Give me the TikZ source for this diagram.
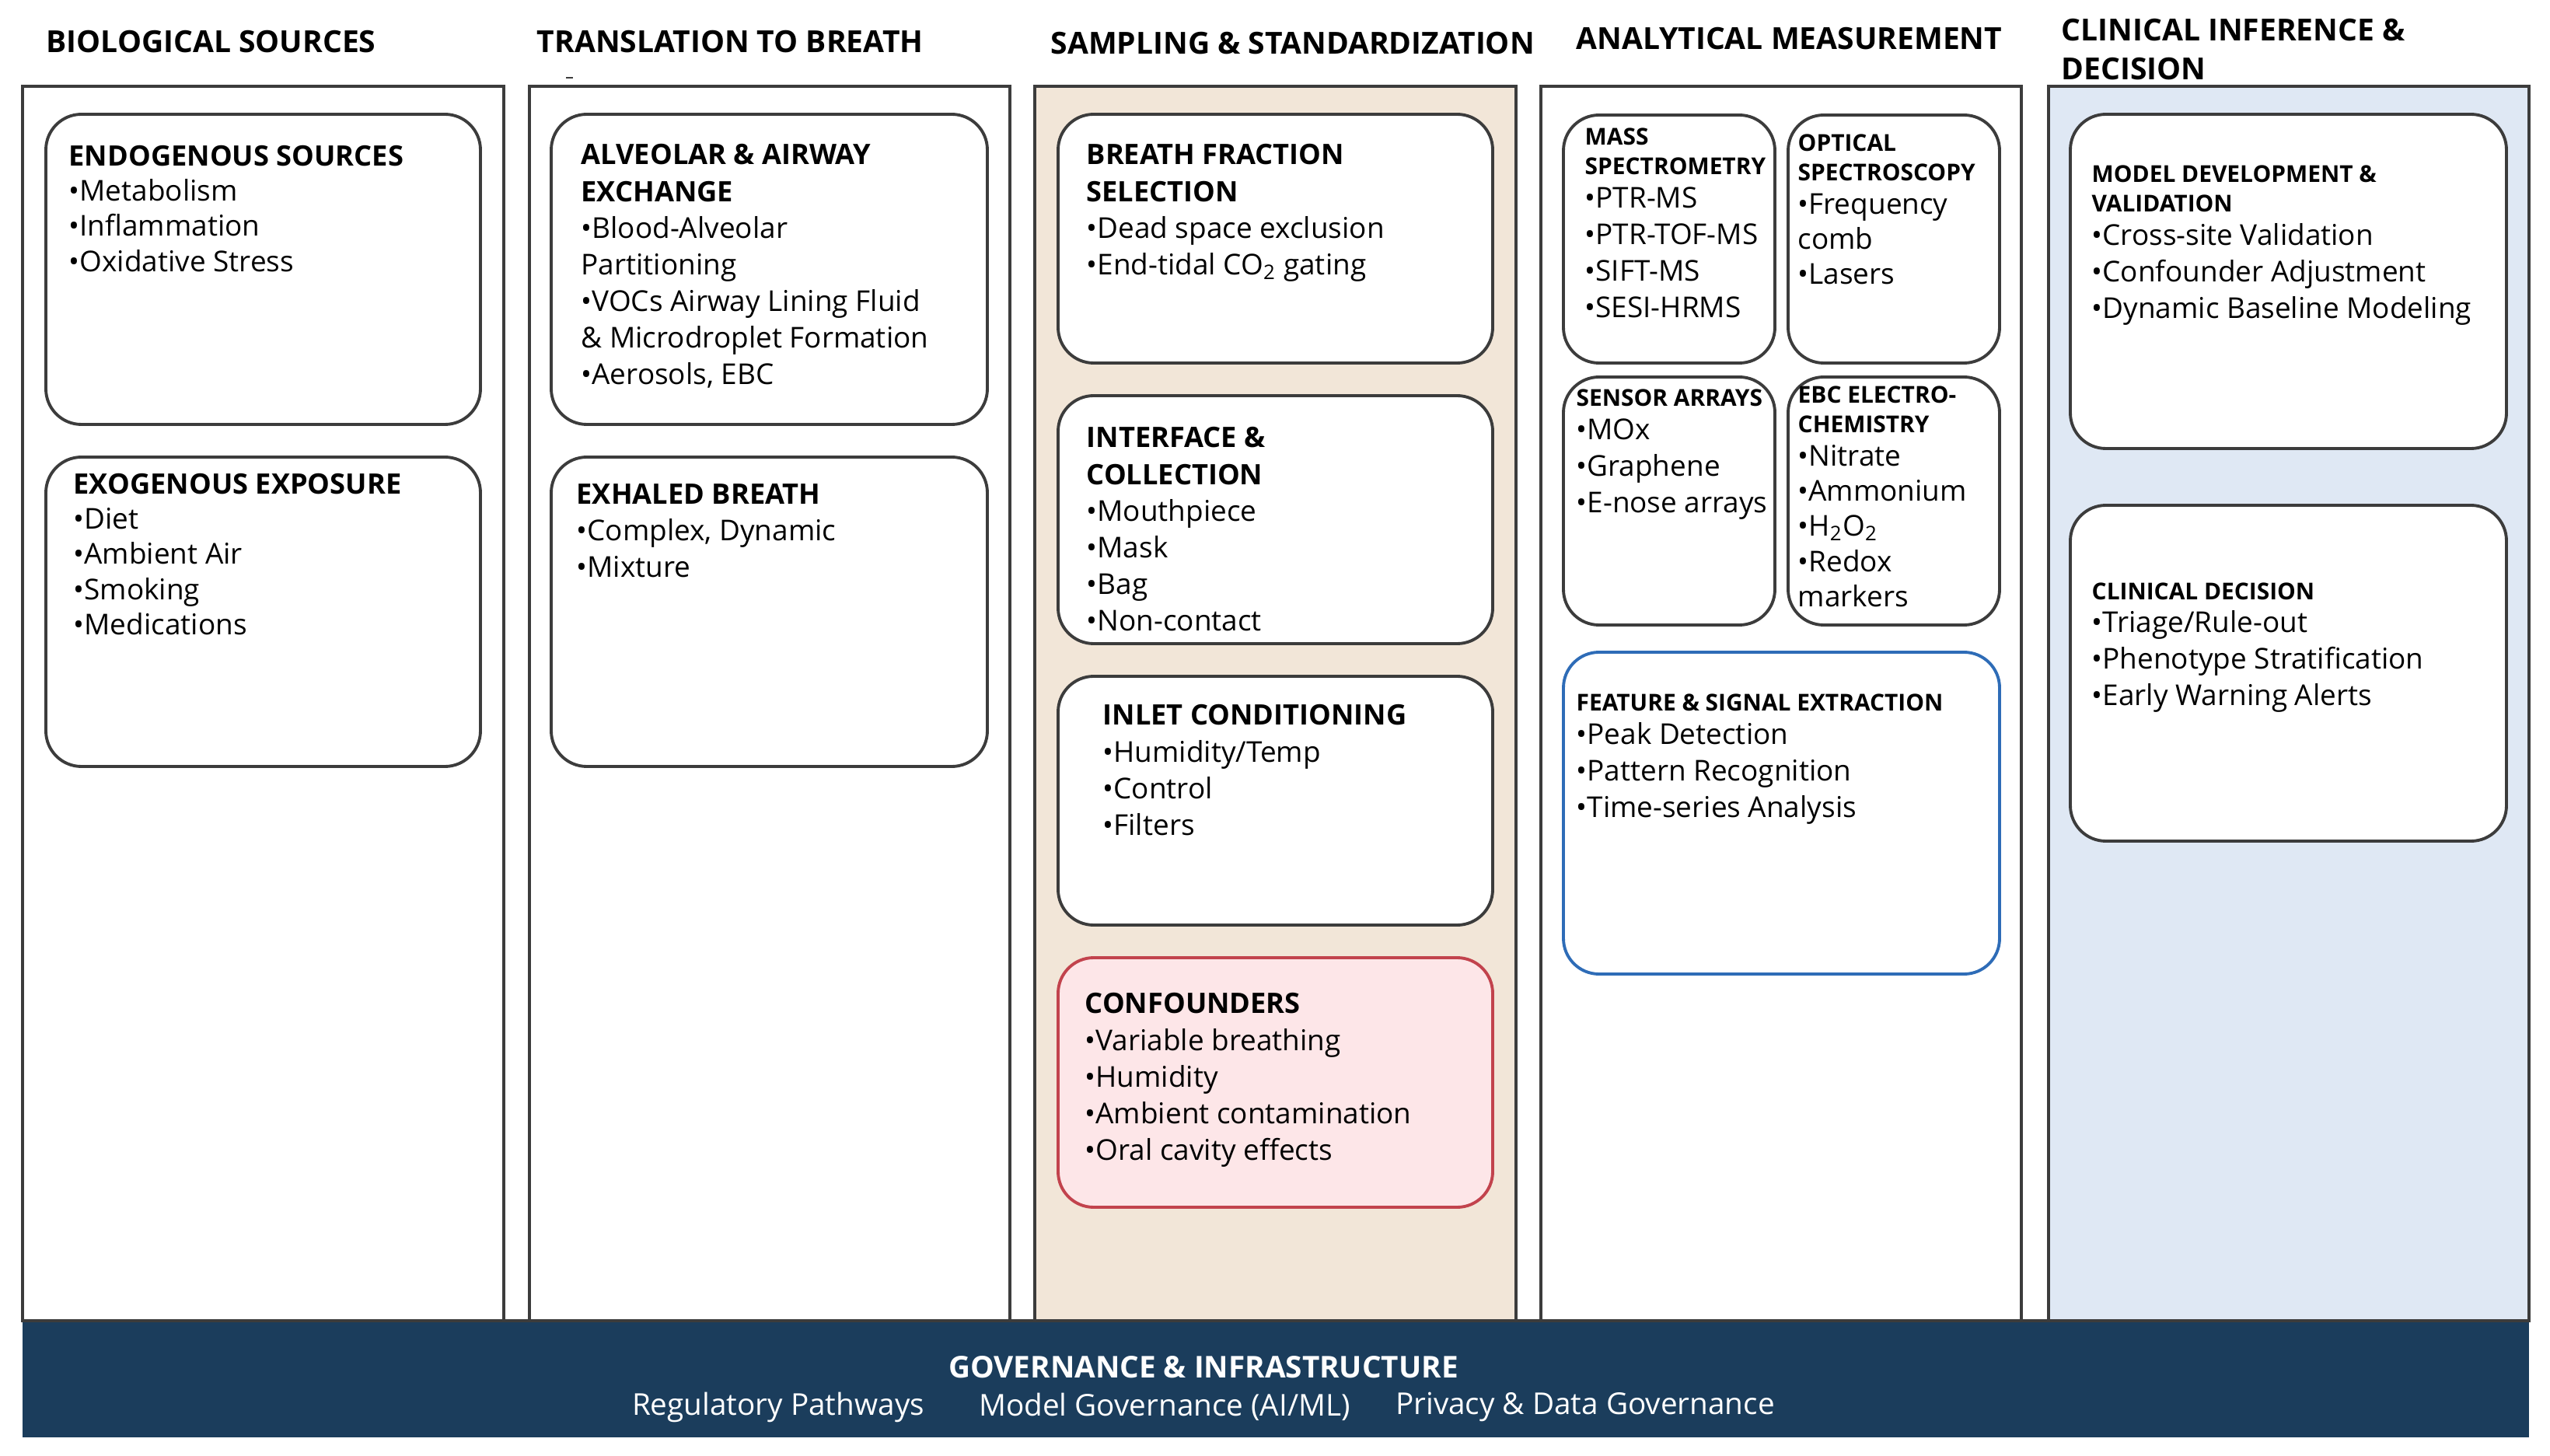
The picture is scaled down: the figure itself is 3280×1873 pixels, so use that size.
\documentclass[tikz,border=0pt]{standalone}
\usepackage{fontspec}
\setmainfont{Open Sans}
\definecolor{edgegray}{HTML}{3C3C3C}
\definecolor{beigepanel}{HTML}{F2E6D8}
\definecolor{bluepanel}{HTML}{DFE8F4}
\definecolor{navybar}{HTML}{1B3D5C}
\definecolor{pinkfill}{HTML}{FDE6E8}
\definecolor{rededge}{HTML}{C2434D}
\definecolor{blueedge}{HTML}{2E6CB7}
\newcommand{\bodyfont}{\fontsize{10.5}{13.4}\selectfont}
\newcommand{\tightfont}{\fontsize{10.5}{12.8}\selectfont}
\newcommand{\hdrfont}{\fontsize{11.1}{14}\selectfont\bfseries}
\newcommand{\bxtitle}[1]{{\fontsize{10.3}{13}\selectfont\bfseries #1}}
\newcommand{\smtitle}[1]{{\fontsize{8.5}{10}\selectfont\bfseries #1}}
\begin{document}
\begin{tikzpicture}[x=0.01cm,y=-0.01cm,
  panel/.style={draw=edgegray,line width=0.9pt},
  card/.style={draw=edgegray,line width=1.1pt,rounded corners=13pt,fill=white},
  txt/.style={anchor=north west,inner sep=0pt,align=left,font=\bodyfont},
  tighttxt/.style={txt,font=\tightfont},
  hdr/.style={anchor=west,inner sep=0pt,font=\hdrfont},
  govtxt/.style={inner sep=0pt,text=white}]
\useasboundingbox (0,0) rectangle (3280,1873);
\fill[white] (0,0) rectangle (3280,1873);

% column headers
\node[hdr] (h1) at (59,54) {BIOLOGICAL SOURCES};
\node[hdr] (h2) at (690,54) {TRANSLATION TO BREATH};
\node[hdr] (h3) at (1351,56) {SAMPLING \& STANDARDIZATION};
\node[hdr] (h4) at (2027,50) {ANALYTICAL MEASUREMENT};
\node[hdr,anchor=north west,align=left] (h5) at (2651,24) {CLINICAL INFERENCE \&\\DECISION};
\draw[edgegray,line width=0.8pt] (728,100) -- (737,100);

% column panels
\draw[panel,fill=white] (29,111) rectangle (648,1699);
\draw[panel,fill=white] (681,111) rectangle (1299,1699);
\draw[panel,fill=beigepanel] (1331,111) rectangle (1950,1699);
\draw[panel,fill=white] (1982,111) rectangle (2600,1699);
\draw[panel,fill=bluepanel] (2635,111) rectangle (3253,1699);

% column 1
\draw[card] (59,147) rectangle (618,546);
\node[tighttxt] (endo) at (88,187) {\bxtitle{ENDOGENOUS SOURCES}\\•Metabolism\\•Inflammation\\•Oxidative Stress};
\draw[card] (59,588) rectangle (618,986);
\node[tighttxt] (exo) at (94,609) {\bxtitle{EXOGENOUS EXPOSURE}\\•Diet\\•Ambient Air\\•Smoking\\•Medications};

% column 2
\draw[card] (709,147) rectangle (1270,546);
\node[txt] (alv) at (747,185) {\bxtitle{ALVEOLAR \& AIRWAY}\\\bxtitle{EXCHANGE}\\•Blood-Alveolar\\Partitioning\\•VOCs Airway Lining Fluid\\\& Microdroplet Formation\\•Aerosols, EBC};
\draw[card] (709,588) rectangle (1270,986);
\node[txt] (exh) at (741,622) {\bxtitle{EXHALED BREATH}\\•Complex, Dynamic\\•Mixture};

% column 3
\draw[card] (1361,147) rectangle (1920,467);
\node[txt] (frac) at (1397,185) {\bxtitle{BREATH FRACTION}\\\bxtitle{SELECTION}\\•Dead space exclusion\\•End-tidal CO\textsubscript{2} gating};
\draw[card] (1361,509) rectangle (1920,828);
\node[txt] (iface) at (1397,549) {\bxtitle{INTERFACE \&}\\\bxtitle{COLLECTION}\\•Mouthpiece\\•Mask\\•Bag\\•Non-contact};
\draw[card] (1361,870) rectangle (1920,1190);
\node[txt] (inlet) at (1418,906) {\bxtitle{INLET CONDITIONING}\\•Humidity/Temp\\•Control\\•Filters};
\draw[card,draw=rededge,fill=pinkfill] (1361,1232) rectangle (1920,1553);
\node[txt] (conf) at (1395,1277) {\bxtitle{CONFOUNDERS}\\•Variable breathing\\•Humidity\\•Ambient contamination\\•Oral cavity effects};

% column 4
\draw[card] (2011,148) rectangle (2283,467);
\node[txt] (mass) at (2038,164) {\smtitle{MASS}\\[-2.6pt]\smtitle{SPECTROMETRY}\\[-1.2pt]•PTR-MS\\•PTR-TOF-MS\\•SIFT-MS\\•SESI-HRMS};
\draw[card] (2300,148) rectangle (2572,467);
\node[tighttxt] (opt) at (2312,172) {\smtitle{OPTICAL}\\[-2pt]\smtitle{SPECTROSCOPY}\\[-0.4pt]•Frequency\\comb\\•Lasers};
\draw[card] (2011,485) rectangle (2283,804);
\node[txt] (sens) at (2027,500) {\smtitle{SENSOR ARRAYS}\\[-1.2pt]•MOx\\•Graphene\\•E-nose arrays};
\draw[card] (2300,485) rectangle (2572,804);
\node[tighttxt] (ebc) at (2312,496) {\smtitle{EBC ELECTRO-}\\[-2pt]\smtitle{CHEMISTRY}\\[-0.4pt]•Nitrate\\•Ammonium\\•H\textsubscript{2}O\textsubscript{2}\\•Redox\\markers};
\draw[card,draw=blueedge] (2011,839) rectangle (2572,1253);
\node[txt] (feat) at (2027,892) {\smtitle{FEATURE \& SIGNAL EXTRACTION}\\[-1.2pt]•Peak Detection\\•Pattern Recognition\\•Time-series Analysis};

% column 5
\draw[card] (2663,147) rectangle (3224,577);
\node[txt] (model) at (2690,212) {\smtitle{MODEL DEVELOPMENT \&}\\[-2.6pt]\smtitle{VALIDATION}\\[-1.2pt]•Cross-site Validation\\•Confounder Adjustment\\•Dynamic Baseline Modeling};
\draw[card] (2663,650) rectangle (3224,1082);
\node[txt] (clin) at (2690,749) {\smtitle{CLINICAL DECISION}\\[-1.4pt]•Triage/Rule-out\\•Phenotype Stratification\\•Early Warning Alerts};

% governance bar
\fill[navybar] (29,1699) rectangle (3253,1849);
\draw[edgegray,line width=0.9pt] (29,1699) -- (3253,1699);
\node[govtxt,font=\fontsize{11}{13}\selectfont\bfseries] (gov) at (1548,1759) {GOVERNANCE \& INFRASTRUCTURE};
\node[govtxt,font=\fontsize{11}{13}\selectfont] (reg) at (1001,1810) {Regulatory Pathways};
\node[govtxt,font=\fontsize{11}{13}\selectfont] (mgov) at (1498,1810) {Model Governance (AI/ML)};
\node[govtxt,font=\fontsize{11}{13}\selectfont] (priv) at (2039,1810) {Privacy \& Data Governance};
\end{tikzpicture}
\end{document}
